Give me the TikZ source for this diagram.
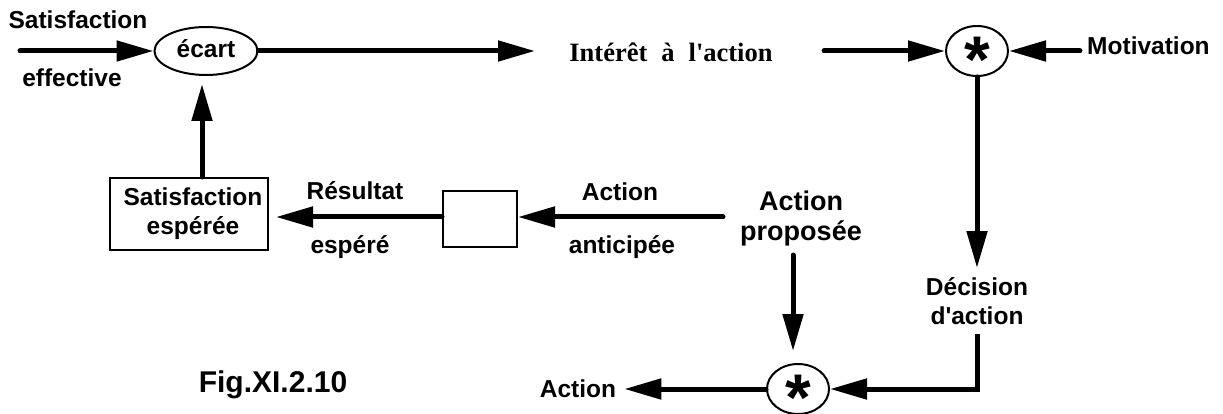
\documentclass[tikz,border=0pt]{standalone}
\usepackage{fontspec}
\usetikzlibrary{arrows.meta,shapes.geometric}
\newfontfamily\sansb{Liberation Sans}[BoldFont={* Bold}]
\newfontfamily\serifb{Liberation Serif}[BoldFont={* Bold}]
% asterisk lowered onto the baseline, its box trimmed to the ink
\newcommand{\multsign}{\raisebox{-0.32em}[0.32em][0pt]{*}}
\begin{document}
\begin{tikzpicture}[x=1pt,y=-1pt,
  lbl/.style={font=\sansb\bfseries\fontsize{24.5}{29}\selectfont, inner sep=0pt, align=center},
  biglbl/.style={font=\sansb\bfseries\fontsize{27}{30}\selectfont, inner sep=0pt, align=center},
  flow/.style={line width=5pt, line cap=round, -{Triangle[length=37pt,width=20pt]}},
  elbowflow/.style={line width=5pt, line join=miter, -{Triangle[length=37pt,width=20pt]}},
  oval/.style={ellipse, draw, line width=2pt, inner sep=0pt},
  frame/.style={rectangle, draw, line width=2pt, inner sep=0pt},
  starglyph/.style={font=\sansb\bfseries\fontsize{66}{66}\selectfont, inner sep=0pt}]
\useasboundingbox (0,0) rectangle (1223,414);

% --- upper row: comparison and interest ---
\node[oval, minimum width=103pt, minimum height=48pt, lbl] (ecart) at (206,51) {\raisebox{5pt}{écart}};
\node[lbl] (satin) at (78,20) {Satisfaction};
\node[lbl] (eff) at (72,78) {effective};
\coordinate (inL) at (20,51);
\draw[flow] (inL) -- (ecart.west);

\node[font=\serifb\bfseries\fontsize{26.5}{26.5}\selectfont, inner sep=0pt] (interet) at (671,52)
  {Intérêt\hspace{14pt}à\hspace{14pt}l'action};
\coordinate (intTip) at (535,51);
\coordinate (intOut) at (824,51);
\draw[flow] (ecart.east) -- (intTip);

\node[oval, minimum width=62pt, minimum height=50pt] (mul1) at (977,51) {};
\node[starglyph] (mul1s) at (mul1.center) {\multsign};
\draw[flow] (intOut) -- (mul1.west);

\node[lbl, anchor=west] (motiv) at (1087,46) {Motivation};
\coordinate (motL) at (1080,51);
\draw[flow] (motL) -- (mul1.east);

% --- decision path ---
\node[lbl] (decision) at (977,301) {Décision\\d'action};
\coordinate (decTop) at (977,268);
\coordinate (decBot) at (977,334);
\draw[flow] (mul1.south) -- (mul1.south |- decTop);

\node[oval, minimum width=62pt, minimum height=50pt] (mul2) at (798,389) {};
\node[starglyph] (mul2s) at (mul2.center) {\multsign};
\draw[elbowflow] (decBot) |- (mul2.east);

\node[biglbl] (prop) at (801,219) {Action\\proposée};
\coordinate (propBot) at (793,255);
\draw[flow] (propBot) -- ([yshift=12pt]mul2.north -| propBot);

\node[lbl] (actout) at (578,389) {Action};
\draw[flow] (mul2.west) -- ([xshift=8pt]actout.east);

% --- middle row: anticipation of the result ---
\node[frame, minimum width=74pt, minimum height=55pt] (anticip) at (480,219) {};
\node[frame, minimum width=158pt, minimum height=72pt, lbl] (satesp) at (189,214)
  {\hspace{8pt}Satisfaction\\\hspace{8pt}espérée};
\coordinate (propL) at (723,217);
\coordinate (upx) at (202,0);
\draw[flow] (propL) -- (anticip.east |- propL);
\draw[flow] (anticip.west |- propL) -- ([xshift=7pt]satesp.east |- propL);
\draw[flow] (satesp.north -| upx) -- ([yshift=-8pt]ecart.south -| upx);

\node[lbl] (resa) at (355,191) {Résultat};
\node[lbl] (resb) at (350,247) {espéré};
\node[lbl] (anta) at (620,192) {Action};
\node[lbl] (antb) at (622,247) {anticipée};

\node[font=\sansb\bfseries\fontsize{30}{30}\selectfont, inner sep=0pt] (fig) at (273,385) {Fig.XI.2.10};
\end{tikzpicture}
\end{document}
